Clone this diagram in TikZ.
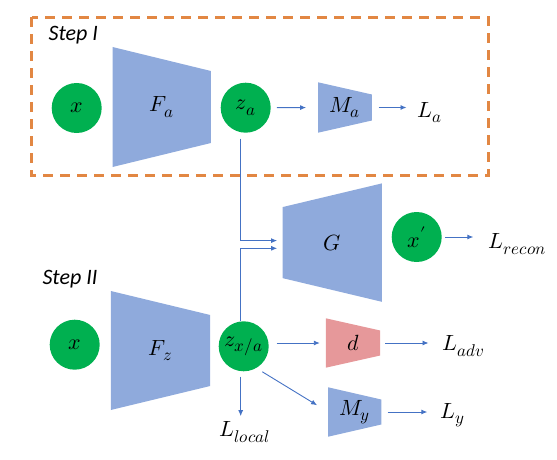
\documentclass[tikz,border=0pt]{standalone}
\usepackage{amsmath,amssymb}
\usepackage{fontspec}
\usepackage{unicode-math}
\usepackage{tikz}
\usepackage{xcolor}
\usetikzlibrary{arrows.meta,backgrounds}
\newfontfamily\stepfont{Carlito}
\DeclareMathSizes{22}{22}{17}{13}
\definecolor{featgreen}{RGB}{0,176,80}
\definecolor{netblue}{RGB}{143,170,220}
\definecolor{netred}{RGB}{230,152,154}
\definecolor{arrblue}{RGB}{68,114,196}
\definecolor{stepor}{RGB}{226,135,67}
\tikzset{
feat/.style={circle,fill=featgreen,minimum size=50pt,inner sep=0pt},
net/.style={inner sep=0pt,minimum height=20pt},
loss/.style={anchor=west},
arr/.style={arrblue,line width=0.9pt,-{Latex[length=6pt,width=5pt]}},
stepframe/.style={stepor,line width=3pt,dash pattern=on 10pt off 7pt},
steplabel/.style={font=\stepfont\itshape\fontsize{22}{24}\selectfont}
}
\newcommand{\trap}[4]{\fill[#4] ([yshift=#2]#1.west) -- ([yshift=#3]#1.east) -- ([yshift=-#3]#1.east) -- ([yshift=-#2]#1.west) -- cycle;}

\begin{document}
\begin{tikzpicture}[x=1pt,y=-1pt,every node/.style={font=\fontsize{22}{26}\selectfont}]
\useasboundingbox (0,0) rectangle (557,460);
\draw[stepframe] (31.7,17.3) rectangle (488.3,175.7);
\node[steplabel] (s1) at (73.3,35) {Step I};
\node[steplabel] (s2) at (70,279) {Step II};

\node[feat] at (76.7,108) (x1){$x$};
\node[net,minimum width=98pt] at (161.7,107) (Fa){$F_a$};
\node[feat] at (245.7,107.7) (za){$z_a$};
\node[net,minimum width=53.4pt] at (345,107.5) (Ma){$M_a$};
\node[loss] at (413.5,112.5) (La){$L_a$};

\node[net,minimum width=99pt] at (332.2,242.6) (G){$G$};
\node[feat] at (416.7,237) (xh){$x'$};
\node[loss] at (485,244) (Lrecon){$L_{recon}$};

\node[feat] at (74.7,344.7) (x2){$x$};
\node[net,minimum width=99pt] at (160.5,350.5) (Fz){$F_z$};
\node[feat] at (243.7,346.3) (zxa){$z_{x/a}$};
\node[net,minimum width=54pt] at (353,343) (d){$d$};
\node[loss] at (438.5,346) (Ladv){$L_{adv}$};
\node[net,minimum width=52.7pt] at (354.7,412) (My){$M_y$};
\node[loss] at (437,415.5) (Ly){$L_y$};
\node at (245,432) (Llocal){$L_{local}$};

\begin{scope}[on background layer]
\trap{Fa}{60pt}{36pt}{netblue}
\trap{Ma}{25.2pt}{13pt}{netblue}
\trap{G}{35.5pt}{59.2pt}{netblue}
\trap{Fz}{59.5pt}{35.5pt}{netblue}
\trap{d}{24.7pt}{12.5pt}{netred}
\trap{My}{24.7pt}{12.5pt}{netblue}
\end{scope}

\draw[arr,shorten <=6pt,shorten >=12pt] (za.east) -- (Ma.west);
\draw[arr,shorten <=6.6pt,shorten >=7pt] (Ma.east) -- (Ma.east -| La.west);
\draw[arr,shorten <=5.6pt,shorten >=5.4pt] ([xshift=-5pt]za.south) |- ([yshift=2pt]G.west);
\draw[arr,shorten >=5.4pt] ([xshift=-3pt]zxa.north) |- ([yshift=-5.7pt]G.west);
\draw[arr,shorten <=3.3pt,shorten >=11.7pt] (xh.east) -- (xh.east -| Lrecon.west);
\draw[arr,shorten <=7.7pt,shorten >=6pt] (zxa.east |- d.west) -- (d.west);
\draw[arr,shorten <=5pt,shorten >=10pt] (d.east) -- (d.east -| Ladv.west);
\draw[arr,shorten <=7pt,shorten >=13pt] (zxa.-60) -- (My.west);
\draw[arr,shorten <=6.3pt,shorten >=9.7pt] (My.east) -- (My.east -| Ly.west);
\draw[arr,shorten <=5pt,shorten >=2pt] ([xshift=-3pt]zxa.south) -- ([xshift=-3pt]zxa.south |- Llocal.north);
\end{tikzpicture}
\end{document}
